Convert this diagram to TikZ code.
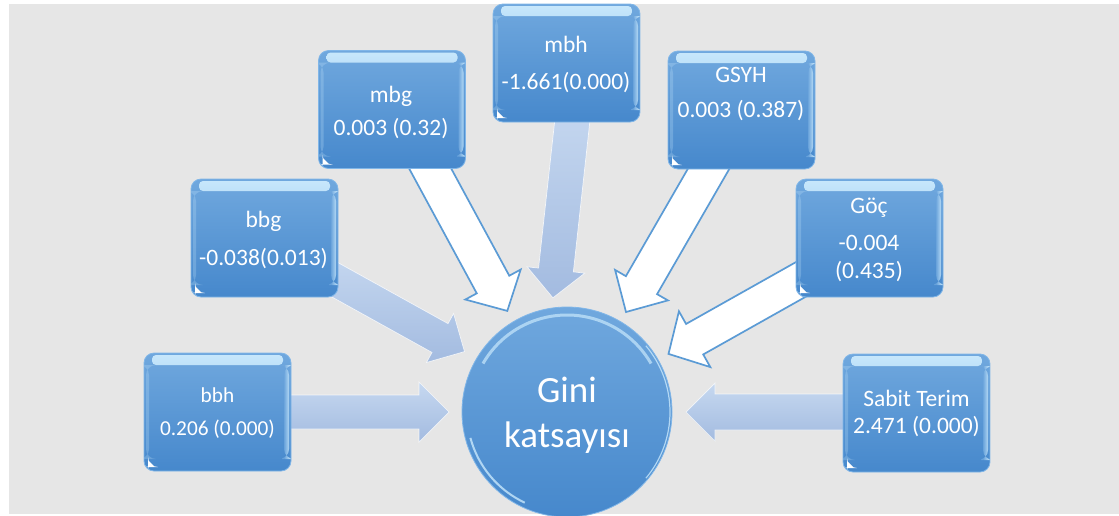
\documentclass[tikz,border=0pt]{standalone}
\usepackage{fontspec}
\setmainfont{Carlito}
\usetikzlibrary{calc}
\definecolor{bg}{RGB}{230,230,230}
\definecolor{boxtop}{RGB}{112,168,222}
\definecolor{boxbot}{RGB}{70,136,204}
\definecolor{boxedge}{RGB}{128,182,232}
\definecolor{hl}{RGB}{200,232,252}
\definecolor{arrline}{RGB}{91,155,213}
\definecolor{softtop}{RGB}{198,216,240}
\definecolor{softbot}{RGB}{163,187,224}
% #1 style, #2 id, #3 start, #4 tip, #5 shaft half width, #6 head half width, #7 head length
\newcommand{\barrow}[7]{%
  \coordinate (#2b) at ($(#4)!#7!(#3)$);
  \path[#1] ($(#3)!#5!90:(#4)$) -- ($(#2b)!#5!90:(#4)$) -- ($(#2b)!#6!90:(#4)$) -- (#4)
    -- ($(#2b)!#6!-90:(#4)$) -- ($(#2b)!#5!-90:(#4)$) -- ($(#3)!#5!-90:(#4)$) -- cycle;}
\begin{document}
\begin{tikzpicture}[x=1pt,y=-1pt,
  box/.style={rectangle, rounded corners=10pt, minimum width=147pt, minimum height=118pt,
    inner sep=0pt, outer sep=0pt, top color=boxtop, bottom color=boxbot, draw=boxedge, line width=0.8pt,
    path picture={
      \shade[top color=hl, bottom color=boxtop, rounded corners=4pt]
        ([shift={(8pt,-2pt)}]path picture bounding box.north west) rectangle
        ([shift={(-8pt,-12pt)}]path picture bounding box.north east);
      \shade[left color=boxtop, right color=hl, opacity=.8] ([shift={(-7pt,-12pt)}]path picture bounding box.north east) rectangle
        ([shift={(-2pt,12pt)}]path picture bounding box.south east);
      \fill[hl,opacity=.25] ([shift={(2pt,-12pt)}]path picture bounding box.north west) rectangle
        ([shift={(5pt,12pt)}]path picture bounding box.south west);
      \fill[white] ([shift={(4pt,4pt)}]path picture bounding box.south west) -- ++(7pt,0pt) -- ++(-7pt,7pt) -- cycle;
    }},
  gini/.style={circle, minimum size=210pt, inner sep=0pt, outer sep=0pt,
    top color=boxtop, bottom color=boxbot, draw=boxedge, line width=0.8pt},
  txt/.style={anchor=base, inner sep=0pt, text=white, font=\fontsize{23.5}{28}\selectfont},
  txtsmall/.style={txt, font=\fontsize{21.3}{26}\selectfont},
  ginitxt/.style={anchor=base, inner sep=0pt, text=white, font=\fontsize{37}{44}\selectfont},
  soft/.style={top color=softtop, bottom color=softbot, draw=white, draw opacity=.75, line width=.7pt, line join=miter},
  hollow/.style={fill=white, draw=arrline, line width=1.7pt, line join=miter}]

\useasboundingbox (0,0) rectangle (1119,515);
\fill[white] (0,0) rectangle (1119,515);
\fill[bg] (9,4) rectangle (1119,514);

% arrow end points
\coordinate (s-bbh) at (250,412);   \coordinate (t-bbh) at (449,412);
\coordinate (s-sab) at (880,412);   \coordinate (t-sab) at (686,412);
\coordinate (s-bbg) at (309,265.4); \coordinate (t-bbg) at (464.5,351.6);
\coordinate (s-mbg) at (412,135);   \coordinate (t-mbg) at (507.3,310.9);
\coordinate (s-mbh) at (574.5,101); \coordinate (t-mbh) at (552.9,297.8);
\coordinate (s-gsy) at (726.5,137.8); \coordinate (t-gsy) at (626,312);
\coordinate (s-goc) at (843,255.7); \coordinate (t-goc) at (668.5,353.9);

\barrow{soft}{abbh}{s-bbh}{t-bbh}{17pt}{30pt}{30pt}
\barrow{soft}{asab}{s-sab}{t-sab}{18pt}{29pt}{29pt}
\barrow{soft}{abbg}{s-bbg}{t-bbg}{16.5pt}{28pt}{28pt}
\barrow{soft}{ambh}{s-mbh}{t-mbh}{17.5pt}{29pt}{28pt}
\barrow{hollow}{ambg}{s-mbg}{t-mbg}{18.5pt}{31.5pt}{30pt}
\barrow{hollow}{agsy}{s-gsy}{t-gsy}{18pt}{30.5pt}{31pt}
\barrow{hollow}{agoc}{s-goc}{t-goc}{17.5pt}{32pt}{30pt}

% boxes
\node[box] (mbh) at (566.5,63) {};
\node[box] (gsyh) at (741.5,110) {};
\node[box] (mbg) at (392,109.5) {};
\node[box] (bbg) at (264.5,238) {};
\node[box] (bbh) at (217.5,412) {};
\node[box] (sabit) at (916.5,413) {};
\node[box] (goc) at (869.5,238) {};

% circle
\node[gini] (gc) at (567,412) {};
\draw[hl, opacity=.7, line width=3pt] ([shift={(150:97pt)}]gc.center) arc[start angle=150, end angle=30, radius=97pt];
\draw[hl, opacity=.8, line width=2pt] ([shift={(195:100pt)}]gc.center) arc[start angle=195, end angle=245, radius=100pt];
\draw[hl, opacity=.8, line width=1.2pt] ([shift={(40:103pt)}]gc.center) arc[start angle=40, end angle=-40, radius=103pt];

% texts
\node[txt] (mbh1) at (566,52) {mbh};
\node[txt] (mbh2) at (566,89) {-1.661(0.000)};
\node[txt] (gsyh1) at (741,82) {GSYH};
\node[txt] (gsyh2) at (741,117) {0.003 (0.387)};
\node[txt] (mbg1) at (391,102) {mbg};
\node[txt] (mbg2) at (391,135) {0.003 (0.32)};
\node[txt] (bbg1) at (263.5,227) {bbg};
\node[txt] (bbg2) at (263.5,265) {-0.038(0.013)};
\node[txtsmall] (bbh1) at (217.5,402) {bbh};
\node[txtsmall] (bbh2) at (217.5,435) {0.206 (0.000)};
\node[txt] (sab1) at (916.5,406) {Sabit Terim};
\node[txt] (sab2) at (916.5,433) {2.471 (0.000)};
\node[txt] (goc1) at (869,213) {Göç};
\node[txt] (goc2) at (869,250) {-0.004};
\node[txt] (goc3) at (869,278) {(0.435)};
\node[ginitxt] (g1) at (567,402) {Gini};
\node[ginitxt] (g2) at (567,447) {katsayısı};
\end{tikzpicture}
\end{document}
